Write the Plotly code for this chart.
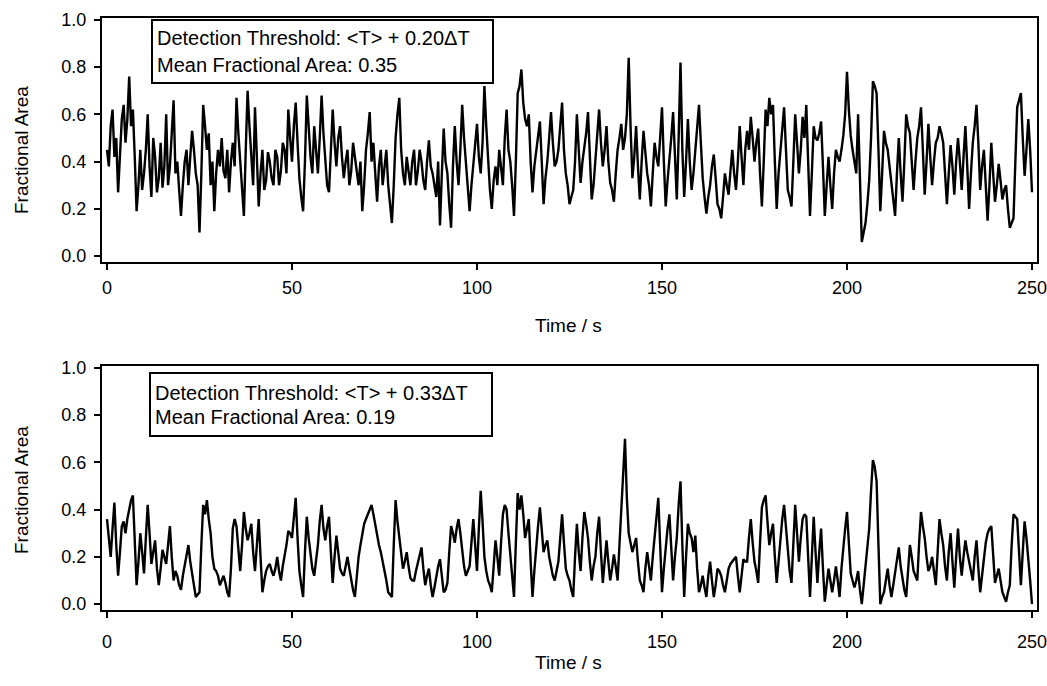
import plotly.graph_objects as go

W, H = 1047, 686

# Fractional area read at whole seconds (0..250 s)
area_top_whole = [
0.45,0.55,0.42,0.27,0.58,0.48,0.76,0.62,0.19,0.45,
0.35,0.60,0.25,0.42,0.33,0.29,0.60,0.38,0.66,0.40,
0.17,0.40,0.30,0.53,0.35,0.10,0.64,0.45,0.30,0.19,
0.45,0.50,0.33,0.27,0.48,0.67,0.40,0.17,0.70,0.42,
0.63,0.21,0.45,0.32,0.40,0.30,0.42,0.36,0.45,0.62,
0.40,0.65,0.33,0.19,0.68,0.42,0.55,0.35,0.68,0.40,
0.27,0.62,0.38,0.55,0.33,0.45,0.36,0.42,0.30,0.19,
0.45,0.61,0.48,0.23,0.45,0.38,0.30,0.14,0.50,0.67,
0.35,0.42,0.30,0.45,0.36,0.40,0.28,0.49,0.35,0.25,
0.13,0.54,0.35,0.12,0.55,0.30,0.64,0.40,0.19,0.38,
0.56,0.35,0.72,0.40,0.20,0.38,0.45,0.30,0.62,0.40,
0.17,0.69,0.79,0.58,0.60,0.27,0.45,0.57,0.22,0.40,
0.61,0.38,0.45,0.65,0.35,0.22,0.28,0.60,0.31,0.45,
0.61,0.24,0.40,0.62,0.38,0.55,0.31,0.23,0.45,0.56,
0.50,0.84,0.33,0.55,0.24,0.53,0.35,0.21,0.48,0.38,
0.63,0.21,0.40,0.61,0.24,0.82,0.25,0.58,0.28,0.45,
0.64,0.33,0.18,0.30,0.43,0.22,0.16,0.35,0.26,0.45,
0.28,0.55,0.30,0.53,0.59,0.40,0.54,0.21,0.62,0.67,
0.64,0.20,0.45,0.63,0.28,0.21,0.60,0.35,0.59,0.64,
0.17,0.55,0.49,0.57,0.17,0.42,0.20,0.45,0.40,0.51,
0.78,0.51,0.40,0.60,0.06,0.14,0.32,0.74,0.69,0.19,
0.53,0.45,0.30,0.17,0.50,0.23,0.60,0.52,0.28,0.50,
0.63,0.26,0.56,0.30,0.48,0.55,0.48,0.22,0.47,0.26,
0.50,0.28,0.55,0.20,0.48,0.64,0.28,0.45,0.15,0.48,
0.23,0.39,0.24,0.30,0.12,0.16,0.63,0.69,0.34,0.58,
0.27]

# Fractional area read at the half seconds (0.5..249.5 s)
area_top_half = [
0.38,0.62,0.50,0.40,0.64,0.58,0.55,0.42,0.30,0.28,
0.45,0.38,0.50,0.27,0.48,0.38,0.30,0.52,0.35,0.28,
0.30,0.45,0.42,0.45,0.30,0.35,0.55,0.52,0.40,0.35,
0.38,0.36,0.45,0.40,0.38,0.52,0.30,0.45,0.55,0.30,
0.45,0.35,0.28,0.44,0.33,0.45,0.30,0.48,0.35,0.50,
0.55,0.48,0.25,0.40,0.55,0.35,0.45,0.50,0.52,0.30,
0.45,0.48,0.50,0.42,0.40,0.30,0.48,0.35,0.40,0.30,
0.52,0.40,0.35,0.38,0.30,0.45,0.22,0.30,0.60,0.45,
0.30,0.36,0.40,0.30,0.45,0.32,0.40,0.38,0.30,0.40,
0.35,0.40,0.22,0.38,0.40,0.45,0.50,0.30,0.30,0.48,
0.42,0.48,0.55,0.28,0.32,0.30,0.38,0.50,0.45,0.30,
0.40,0.72,0.65,0.55,0.40,0.38,0.52,0.40,0.33,0.50,
0.48,0.40,0.55,0.45,0.30,0.25,0.40,0.45,0.40,0.52,
0.40,0.30,0.50,0.48,0.45,0.40,0.28,0.35,0.50,0.45,
0.60,0.55,0.42,0.38,0.40,0.44,0.30,0.35,0.42,0.50,
0.40,0.32,0.50,0.40,0.50,0.45,0.40,0.40,0.35,0.55,
0.48,0.25,0.25,0.38,0.33,0.20,0.25,0.30,0.36,0.35,
0.40,0.42,0.45,0.45,0.50,0.48,0.35,0.40,0.55,0.60,
0.40,0.35,0.55,0.45,0.25,0.40,0.48,0.45,0.50,0.40,
0.35,0.50,0.52,0.38,0.30,0.30,0.35,0.42,0.45,0.60,
0.62,0.45,0.35,0.30,0.10,0.22,0.50,0.72,0.45,0.35,
0.48,0.38,0.25,0.35,0.35,0.40,0.55,0.40,0.40,0.55,
0.45,0.40,0.42,0.40,0.50,0.52,0.35,0.35,0.38,0.40,
0.40,0.42,0.38,0.35,0.55,0.48,0.38,0.30,0.30,0.35,
0.30,0.32,0.28,0.20,0.14,0.40,0.66,0.50,0.45,0.45]

area_bottom_whole = [
0.36,0.20,0.43,0.12,0.33,0.30,0.40,0.46,0.08,0.30,
0.13,0.42,0.17,0.27,0.08,0.23,0.17,0.33,0.10,0.12,
0.06,0.17,0.25,0.12,0.03,0.05,0.42,0.44,0.30,0.15,
0.12,0.10,0.09,0.03,0.32,0.33,0.14,0.39,0.27,0.34,
0.14,0.36,0.05,0.14,0.17,0.12,0.20,0.10,0.20,0.31,
0.28,0.45,0.14,0.03,0.37,0.20,0.12,0.25,0.42,0.27,
0.37,0.09,0.29,0.15,0.12,0.20,0.10,0.03,0.20,0.30,
0.36,0.40,0.38,0.29,0.22,0.15,0.05,0.03,0.44,0.28,
0.15,0.22,0.11,0.10,0.17,0.24,0.08,0.15,0.03,0.12,
0.19,0.05,0.09,0.33,0.26,0.36,0.22,0.12,0.16,0.36,
0.14,0.48,0.20,0.10,0.05,0.27,0.12,0.38,0.40,0.20,
0.03,0.47,0.46,0.28,0.36,0.03,0.25,0.41,0.22,0.27,
0.15,0.10,0.18,0.38,0.15,0.10,0.03,0.34,0.14,0.39,
0.28,0.10,0.20,0.37,0.09,0.27,0.10,0.21,0.10,0.39,
0.70,0.30,0.22,0.28,0.10,0.05,0.22,0.10,0.28,0.45,
0.05,0.25,0.38,0.10,0.28,0.52,0.03,0.34,0.28,0.29,
0.05,0.12,0.03,0.18,0.03,0.15,0.12,0.05,0.15,0.18,
0.20,0.05,0.19,0.18,0.36,0.18,0.09,0.41,0.46,0.25,
0.34,0.09,0.28,0.42,0.21,0.09,0.42,0.18,0.36,0.37,
0.03,0.37,0.09,0.32,0.01,0.15,0.05,0.16,0.03,0.25,
0.39,0.13,0.07,0.14,0.00,0.16,0.32,0.61,0.52,0.00,
0.05,0.15,0.03,0.14,0.24,0.10,0.03,0.25,0.14,0.10,
0.39,0.28,0.14,0.20,0.08,0.36,0.25,0.10,0.30,0.07,
0.32,0.12,0.27,0.18,0.10,0.27,0.05,0.20,0.30,0.33,
0.09,0.15,0.05,0.01,0.08,0.38,0.36,0.08,0.35,0.20,
0.00]

area_bottom_half = [
0.28,0.32,0.25,0.22,0.35,0.36,0.44,0.25,0.18,0.22,
0.28,0.30,0.22,0.15,0.15,0.20,0.25,0.20,0.14,0.08,
0.12,0.20,0.18,0.08,0.04,0.25,0.38,0.36,0.20,0.14,
0.08,0.12,0.05,0.15,0.36,0.22,0.25,0.32,0.30,0.22,
0.25,0.20,0.10,0.16,0.14,0.15,0.14,0.16,0.25,0.30,
0.38,0.28,0.08,0.22,0.28,0.15,0.18,0.35,0.32,0.33,
0.22,0.20,0.22,0.13,0.16,0.15,0.06,0.12,0.25,0.34,
0.38,0.42,0.33,0.25,0.18,0.10,0.04,0.25,0.35,0.20,
0.18,0.16,0.10,0.14,0.20,0.15,0.12,0.08,0.07,0.16,
0.12,0.06,0.22,0.30,0.32,0.30,0.16,0.14,0.26,0.25,
0.32,0.35,0.14,0.08,0.16,0.20,0.26,0.42,0.30,0.10,
0.26,0.40,0.38,0.32,0.18,0.14,0.33,0.30,0.25,0.20,
0.12,0.14,0.28,0.26,0.12,0.06,0.20,0.22,0.28,0.34,
0.18,0.16,0.30,0.22,0.18,0.18,0.15,0.16,0.25,0.58,
0.45,0.26,0.25,0.18,0.08,0.15,0.16,0.20,0.38,0.25,
0.15,0.32,0.22,0.20,0.42,0.25,0.20,0.30,0.22,0.15,
0.08,0.07,0.12,0.10,0.08,0.14,0.08,0.10,0.17,0.19,
0.12,0.12,0.18,0.28,0.26,0.14,0.26,0.44,0.35,0.30,
0.20,0.18,0.36,0.32,0.14,0.26,0.30,0.28,0.38,0.20,
0.20,0.22,0.22,0.15,0.08,0.10,0.10,0.10,0.15,0.32,
0.25,0.10,0.10,0.06,0.08,0.25,0.48,0.58,0.25,0.03,
0.10,0.08,0.08,0.20,0.16,0.06,0.15,0.20,0.12,0.26,
0.33,0.20,0.16,0.14,0.22,0.30,0.16,0.22,0.18,0.20,
0.20,0.20,0.22,0.14,0.20,0.15,0.12,0.26,0.32,0.20,
0.12,0.10,0.03,0.05,0.25,0.37,0.22,0.22,0.28,0.10]

x_ticks = [0, 50, 100, 150, 200, 250]
y_ticks = [0.0, 0.2, 0.4, 0.6, 0.8, 1.0]
y_ticklabels = ["0.0", "0.2", "0.4", "0.6", "0.8", "1.0"]
labels_top = ["Detection Threshold: &lt;T&gt; + 0.20ΔT", "Mean Fractional Area: 0.35"]
labels_bottom = ["Detection Threshold: &lt;T&gt; + 0.33ΔT", "Mean Fractional Area: 0.19"]


def interleave(whole, half):
    out = []
    for i, v in enumerate(whole):
        out.append(v)
        if i < len(half):
            out.append(half[i])
    return out


time_s = [i * 0.5 for i in range(2 * len(area_top_whole) - 1)]
area_top = interleave(area_top_whole, area_top_half)
area_bottom = interleave(area_bottom_whole, area_bottom_half)

FONT = "Liberation Sans, Arial, Helvetica, sans-serif"


def px_x(p):
    return p / W


def px_y(p):
    return 1 - p / H


fig = go.Figure()
fig.add_trace(go.Scatter(x=time_s, y=area_top, mode="lines",
                         line=dict(color="black", width=2.4), xaxis="x", yaxis="y"))
fig.add_trace(go.Scatter(x=time_s, y=area_bottom, mode="lines",
                         line=dict(color="black", width=2.4), xaxis="x2", yaxis="y2"))

xdom = [px_x(102), px_x(1037)]
axis_common = dict(showline=True, linecolor="black", linewidth=2, mirror=True,
                   ticks="outside", ticklen=6, tickwidth=1.5, tickcolor="black",
                   showgrid=False, zeroline=False, automargin=False,
                   tickfont=dict(family=FONT, size=18, color="black"))

fig.update_layout(
    width=W, height=H,
    margin=dict(l=0, r=0, t=0, b=0, autoexpand=False),
    paper_bgcolor="white", plot_bgcolor="white",
    showlegend=False,
    xaxis=dict(domain=xdom, range=[-1.35, 251.35], anchor="y",
               tickvals=x_ticks, ticklabelstandoff=2, ticklabeloverflow="allow", **axis_common),
    yaxis=dict(domain=[px_y(262), px_y(18)], range=[-0.025, 1.008], anchor="x",
               tickvals=y_ticks, ticktext=y_ticklabels, ticklabelstandoff=4, **axis_common),
    xaxis2=dict(domain=xdom, range=[-1.35, 251.35], anchor="y2",
                tickvals=x_ticks, ticklabelstandoff=8, ticklabeloverflow="allow", **axis_common),
    yaxis2=dict(domain=[px_y(610), px_y(366)], range=[-0.025, 1.008], anchor="x2",
                tickvals=y_ticks, ticktext=y_ticklabels, ticklabelstandoff=4, **axis_common),
)

annotations = []
shapes = []
for ycenter in (150, 490):
    annotations.append(dict(text="Fractional Area", x=px_x(21), y=px_y(ycenter),
                            xref="paper", yref="paper", showarrow=False, textangle=-90,
                            xanchor="center", yanchor="middle",
                            font=dict(family=FONT, size=19, color="black")))
for ycenter in (325, 662):
    annotations.append(dict(text="Time / s", x=px_x(568), y=px_y(ycenter),
                            xref="paper", yref="paper", showarrow=False,
                            xanchor="center", yanchor="middle",
                            font=dict(family=FONT, size=19, color="black")))

for (x0, y0, x1, y1, l1, l2, labels) in [(152, 20, 493, 83, 38, 65, labels_top),
                                          (150, 373, 492, 436, 393, 417, labels_bottom)]:
    shapes.append(dict(type="rect", xref="paper", yref="paper",
                       x0=px_x(x0), x1=px_x(x1), y0=px_y(y1), y1=px_y(y0),
                       line=dict(color="black", width=2), fillcolor="white", layer="above"))
    for yy, txt in zip((l1, l2), labels):
        annotations.append(dict(text=txt, x=px_x(x0 + 3), y=px_y(yy), xref="paper", yref="paper",
                                xanchor="left", yanchor="middle", showarrow=False,
                                font=dict(family=FONT, size=20, color="black")))

fig.update_layout(annotations=annotations, shapes=shapes)
fig.write_html("out.html", config={"displayModeBar": False},
               post_script="document.body.style.margin='0px';")
